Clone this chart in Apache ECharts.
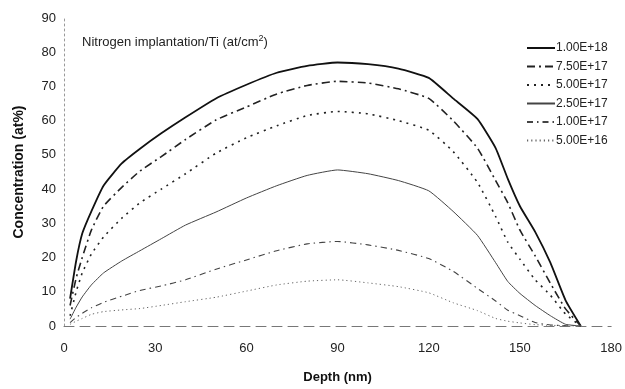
<!DOCTYPE html>
<html>
<head>
<meta charset="utf-8">
<script src="https://cdn.jsdelivr.net/npm/echarts@6/dist/echarts.min.js"></script>
<style>
  html, body { margin: 0; padding: 0; background: #fff; }
  #chart { width: 625px; height: 389px; }
</style>
</head>
<body>
<div id="chart"></div>
<script>
// depth (nm), shared by all series
const depth = [2, 4, 6, 9, 13, 19, 25, 32, 40, 50, 60, 70, 80, 90, 100, 110, 120, 128, 136, 142, 146, 150, 155, 160, 165, 170]

// concentration (at%) per implanted dose
const dose1e18 = [8, 19, 27, 33.5, 41, 47.5, 51.8, 56.3, 61, 66.5, 70.5, 74, 76, 77, 76.5, 75.2, 72.5, 66.5, 60.5, 52, 43, 35, 27.5, 18.5, 7.5, 0]
const dose75e17 = [6, 14, 20, 28, 35, 40.5, 45.3, 49.5, 54.5, 60.2, 64, 67.8, 70.3, 71.5, 71, 69.3, 66.5, 60, 52, 42.5, 36, 28, 20.5, 12.5, 5, 0]
const dose5e17 = [3, 10, 15.5, 21, 26, 31.5, 36, 40, 44.5, 50.5, 55, 58.5, 61.5, 62.7, 62, 60, 57.2, 51, 42, 32, 24.5, 19.5, 13.5, 9, 3.5, 0]
const dose25e17 = [2, 5.5, 8.5, 12, 15.5, 19, 22, 25.5, 29.5, 33.3, 37.4, 41, 44, 45.6, 44.5, 42.5, 39.5, 33.5, 26.5, 18.5, 13, 9.5, 6, 3, 0.5, 0]
const dose1e17 = [1, 2.5, 3.7, 5.3, 6.9, 8.7, 10.4, 11.7, 13.5, 16.6, 19.3, 22, 24, 24.7, 23.7, 22.1, 19.7, 16, 11, 7.3, 4.6, 3, 1, 0.3, 0.1, 0]
const dose5e16 = [0.5, 1.4, 2.2, 3.4, 4.2, 4.7, 5.1, 6, 7.1, 8.4, 10.2, 12, 13.1, 13.5, 12.6, 11.5, 9.7, 6.8, 4.5, 2.2, 1.4, 0.9, 0.4, 0.2, 0.1, 0]

const doseLabels = ['1.00E+18', '7.50E+17', '5.00E+17', '2.50E+17', '1.00E+17', '5.00E+16']

const chart = echarts.init(document.getElementById('chart'))

const pairs = vals => depth.map((d, i) => [d, vals[i]])

// line looks, same order as doseLabels
const looks = [
  { color: '#111', width: 1.8, type: 'solid' },
  { color: '#222', width: 1.6, type: [8, 4, 2, 4] },
  { color: '#222', width: 1.6, type: [2, 5] },
  { color: '#444', width: 1, type: 'solid' },
  { color: '#444', width: 1.1, type: [6, 4, 1.5, 4] },
  { color: '#666', width: 1, type: [1.2, 3] },
]

const allVals = [dose1e18, dose75e17, dose5e17, dose25e17, dose1e17, dose5e16]

chart.setOption({
  animation: false,
  textStyle: { fontFamily: 'Liberation Sans, Arial, sans-serif' },
  title: {
    text: 'Nitrogen implantation/Ti (at/cm{sup|2})',
    left: 77,
    top: 29,
    textStyle: {
      fontSize: 13,
      fontWeight: 'normal',
      color: '#222',
      rich: { sup: { fontSize: 9, verticalAlign: 'top', padding: [0, 0, 7, 0], color: '#222' } },
    },
  },
  legend: {
    orient: 'vertical',
    left: 521,
    top: 37,
    itemWidth: 28,
    itemHeight: 12,
    itemGap: 6.5,
    itemStyle: { opacity: 0 },
    textStyle: { fontSize: 12, color: '#222', padding: [0, 0, 0, -4] },
    data: doseLabels,
  },
  grid: { left: 64, right: 10, top: 18, bottom: 62 },
  xAxis: {
    type: 'value',
    min: 0,
    max: 180,
    interval: 30,
    name: 'Depth (nm)',
    nameLocation: 'middle',
    nameGap: 45,
    nameTextStyle: { fontSize: 13, fontWeight: 'bold', color: '#111' },
    axisLine: { lineStyle: { color: '#777', type: [10, 6], width: 1 } },
    axisTick: { show: false },
    axisLabel: { color: '#222', fontSize: 13, margin: 16 },
    splitLine: { show: false },
  },
  yAxis: {
    type: 'value',
    min: 0,
    max: 90,
    interval: 10,
    name: 'Concentration (at%)',
    nameLocation: 'middle',
    nameGap: 38,
    nameTextStyle: { fontSize: 14, fontWeight: 'bold', color: '#111' },
    axisLine: { show: true, lineStyle: { color: '#999', type: [2, 3], width: 1 } },
    axisTick: { show: false },
    axisLabel: { color: '#222', fontSize: 13, margin: 8 },
    splitLine: { show: false },
  },
  series: doseLabels.map((name, i) => ({
    name,
    type: 'line',
    data: pairs(allVals[i]),
    symbol: 'none',
    smooth: 0.15,
    lineStyle: looks[i],
    itemStyle: { color: looks[i].color },
  })),
})
</script>
</body>
</html>
